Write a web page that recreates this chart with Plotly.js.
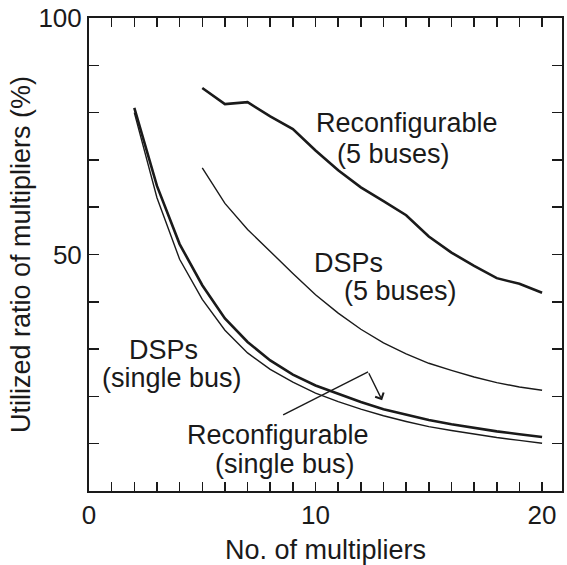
<!DOCTYPE html>
<html>
<head>
<meta charset="utf-8">
<script src="https://cdn.plot.ly/plotly-3.0.1.min.js"></script>
<style>html,body{margin:0;padding:0;background:#fff;}#chart{width:567px;height:565px;}</style>
</head>
<body>
<div id="chart"></div>
<script>
// x: number of multipliers
const xFive = [5,6,7,8,9,10,11,12,13,14,15,16,17,18,19,20];
const reconfFive = [85.2,81.8,82.2,79.2,76.5,72.0,67.8,64.2,61.3,58.3,53.8,50.4,47.6,45.0,43.8,41.9];
const dspFive = [68.3,60.8,55.3,50.6,46.0,41.5,37.6,34.2,31.3,29.0,27.0,25.5,24.1,22.9,22.0,21.3];

const xSingle = [2,3,4,5,6,7,8,9,10,11,12,13,14,15,16,17,18,19,20];
const reconfSingle = [81.0,64.5,52.2,43.5,36.5,31.5,27.6,24.6,22.3,20.5,18.8,17.3,16.1,15.0,14.1,13.3,12.6,12.0,11.4];
const dspSingle = [80.0,62.0,49.0,40.5,34.0,29.2,25.7,23.0,20.7,18.9,17.3,15.9,14.7,13.6,12.8,12.0,11.3,10.7,10.1];

const xTickVals = [0,1,2,3,4,5,6,7,8,9,10,11,12,13,14,15,16,17,18,19,20];
const xTickText = ["0","","","","","","","","","","10","","","","","","","","","","20"];
const yTickVals = [0,10,20,30,40,50,60,70,80,90,100];
const yTickText = ["","","","","","50","","","","","100"];

const ink = '#1a1a1a';
const FONT = 'Liberation Sans, Arial, Helvetica, sans-serif';

const traces = [
  {x: xFive, y: reconfFive, mode: 'lines', line: {color: ink, width: 2.6}, name: 'Reconfigurable (5 buses)'},
  {x: xFive, y: dspFive, mode: 'lines', line: {color: ink, width: 1.4}, name: 'DSPs (5 buses)'},
  {x: xSingle, y: reconfSingle, mode: 'lines', line: {color: ink, width: 2.6}, name: 'Reconfigurable (single bus)'},
  {x: xSingle, y: dspSingle, mode: 'lines', line: {color: ink, width: 1.4}, name: 'DSPs (single bus)'}
];

function lab(text, x, y) {
  return {text: text, x: x, y: y, xref: 'x', yref: 'y', showarrow: false,
          font: {family: FONT, size: 27, color: ink}, xanchor: 'center', yanchor: 'middle'};
}

const layout = {
  width: 567, height: 565,
  margin: {l: 89, r: 5, t: 18, b: 74},
  paper_bgcolor: '#fff', plot_bgcolor: '#fff',
  showlegend: false,
  font: {family: FONT, color: ink},
  xaxis: {
    range: [0, 20.88], tickvals: xTickVals, ticktext: xTickText,
    ticks: 'inside', ticklen: 9, tickwidth: 1.5, tickcolor: ink,
    showline: true, linewidth: 2, linecolor: ink, mirror: 'ticks',
    showgrid: false, zeroline: false,
    tickfont: {family: FONT, size: 26, color: ink},
    title: {text: 'No. of multipliers', font: {family: FONT, size: 27, color: ink}, standoff: 16}
  },
  yaxis: {
    range: [0, 100], tickvals: yTickVals, ticktext: yTickText,
    ticks: 'inside', ticklen: 10, tickwidth: 1.5, tickcolor: ink,
    showline: true, linewidth: 2, linecolor: ink, mirror: 'ticks',
    showgrid: false, zeroline: false,
    tickfont: {family: FONT, size: 26, color: ink},
    title: {text: 'Utilized ratio of multipliers (%)', font: {family: FONT, size: 27, color: ink}, standoff: 0}
  },
  annotations: [
    lab('Reconfigurable', 14.04, 77.8),
    lab('(5 buses)', 13.42, 71.3),
    lab('DSPs', 11.45, 48.3),
    lab('(5 buses)', 13.73, 42.3),
    lab('DSPs', 3.27, 29.9),
    lab('(single bus)', 3.67, 23.9),
    lab('Reconfigurable', 8.34, 11.9),
    lab('(single bus)', 8.66, 5.7),
    {x: 12.94, y: 19.2, ax: 12.32, ay: 25.2, xref: 'x', yref: 'y', axref: 'x', ayref: 'y',
     showarrow: true, arrowhead: 4, arrowsize: 1.3, arrowwidth: 1.4, arrowcolor: ink, text: ''}
  ],
  shapes: [
    {type: 'line', xref: 'x', yref: 'y', x0: 8.57, y0: 16.1, x1: 12.32, y1: 25.2,
     line: {color: ink, width: 1.4}}
  ]
};

Plotly.newPlot('chart', traces, layout, {displayModeBar: false, staticPlot: true});
</script>
</body>
</html>
